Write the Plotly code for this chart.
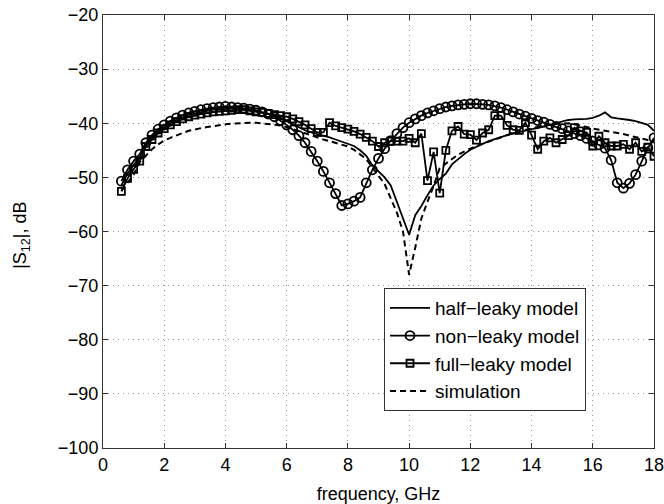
import numpy as np
import plotly.graph_objects as go

freq = [round(0.6 + 0.2 * k, 1) for k in range(88)]

non_leaky = [
    -50.7, -48.6, -47.0, -45.7, -43.6, -42.2, -41.1, -40.3, -39.6, -39.0,
    -38.5, -38.1, -37.8, -37.5, -37.3, -37.1, -37.0, -36.9, -37.0, -37.1,
    -37.2, -37.4, -37.6, -37.9, -38.3, -38.8, -39.5, -40.3, -41.2, -42.3,
    -43.6, -45.2, -47.0, -48.9, -51.0, -53.0, -55.2, -54.9, -54.4, -53.7,
    -51.0, -48.6, -46.5, -44.7, -43.2, -41.9, -40.8, -39.9, -39.2, -38.6,
    -38.1, -37.7, -37.3, -37.0, -36.8, -36.6, -36.5, -36.4, -36.4, -36.5,
    -36.6, -36.8, -37.1, -37.5, -37.9, -38.3, -38.7, -39.1, -39.5, -39.8,
    -40.2, -40.6, -41.0, -41.4, -41.9, -42.3, -42.8, -43.3, -44.0, -44.6,
    -46.8, -51.0, -52.0, -51.1, -49.5, -47.0, -44.6, -42.7,
]

full_leaky = [
    -52.6, -50.2, -48.5, -47.0, -44.3, -43.0, -41.8, -41.0, -40.3, -39.7,
    -39.2, -38.8, -38.5, -38.3, -38.1, -37.9, -37.8, -37.7, -37.6, -37.5,
    -37.5, -37.7, -37.9, -38.0, -38.2, -38.4, -38.6, -38.8, -39.2, -39.7,
    -40.3, -41.0, -41.7, -41.7, -39.9, -40.5, -40.8, -41.1, -41.5, -42.0,
    -42.6, -43.3, -44.3, -43.6, -43.3, -43.3, -43.3, -42.8, -43.6, -41.9,
    -50.6, -45.3, -52.9, -45.0, -41.4, -40.6, -42.0, -42.1, -43.1, -41.8,
    -41.2, -38.6, -38.6, -40.4, -41.2, -41.3, -39.9, -42.2, -44.8, -43.3,
    -42.7, -43.6, -43.0, -42.3, -40.8, -41.4, -41.7, -44.2, -42.4, -43.6,
    -44.2, -44.2, -43.9, -44.8, -43.6, -45.2, -44.4, -46.1,
]

half_leaky = [
    -51.5, -49.3, -47.7, -46.3, -44.0, -42.6, -41.5, -40.7, -40.0, -39.4,
    -38.9, -38.5, -38.2, -37.9, -37.7, -37.5, -37.4, -37.3, -37.3, -37.3,
    -37.4, -37.6, -37.8, -38.0, -38.3, -38.6, -39.0, -39.6, -40.2, -40.8,
    -41.3, -41.7, -42.0, -42.2, -42.6, -43.0, -43.4, -43.7, -44.2, -45.0,
    -46.0, -47.8, -49.0, -50.0, -51.5, -54.5, -57.6, -60.6, -57.0, -55.3,
    -53.3, -51.5, -50.3, -49.3, -47.6, -46.6, -45.7, -44.9, -44.3, -43.8,
    -43.3, -42.9, -42.5, -42.2, -41.9, -41.6, -41.3, -41.1, -40.9, -40.6,
    -40.3, -40.0, -39.8, -39.4, -39.3, -39.3, -39.2, -39.0, -38.6, -38.0,
    -38.9, -39.1, -39.2, -39.4, -39.6, -39.9, -40.3, -41.4,
]

simulation = [
    -52.5, -51.0, -49.5, -47.2, -45.9, -44.8, -43.9, -43.2, -42.7, -42.2,
    -41.8, -41.4, -41.1, -40.9, -40.7, -40.5, -40.3, -40.2, -40.1, -40.0,
    -39.9, -39.9, -39.9, -40.0, -40.1, -40.2, -40.4, -40.7, -41.1, -41.5,
    -41.9, -42.3, -42.7, -43.0, -43.3, -43.6, -43.9, -44.3, -44.9, -45.7,
    -46.6, -48.2, -49.6, -51.2, -53.9, -56.5, -60.0, -68.0, -63.0, -57.6,
    -54.5, -51.6, -48.3, -47.4, -46.6, -45.8, -45.2, -44.7, -44.2, -43.8,
    -43.3, -42.9, -42.5, -42.1, -41.8, -41.5, -41.2, -40.9, -40.6, -40.4,
    -40.2, -40.1, -40.0, -40.0, -40.2, -40.4, -40.7, -41.0, -41.2, -41.4,
    -41.5, -41.7, -42.0, -42.3, -42.6, -42.9, -43.1, -43.3,
]

x_ticks = list(range(0, 19, 2))
y_ticks = list(range(-100, -19, 10))

FONT = "Liberation Sans, Arial, Helvetica, sans-serif"
FS = 18

fig = go.Figure()
fig.add_trace(go.Scatter(
    x=freq, y=half_leaky, mode="lines", name="half−leaky model",
    line=dict(color="black", width=1.8),
))
fig.add_trace(go.Scatter(
    x=freq, y=non_leaky, mode="lines+markers", name="non−leaky model",
    line=dict(color="black", width=1.8),
    marker=dict(symbol="circle-open", size=9, color="black", line=dict(width=1.8)),
))
fig.add_trace(go.Scatter(
    x=freq, y=full_leaky, mode="lines+markers", name="full−leaky model",
    line=dict(color="black", width=1.8),
    marker=dict(symbol="square-open", size=7, color="black", line=dict(width=1.8)),
))
fig.add_trace(go.Scatter(
    x=freq, y=simulation, mode="lines", name="simulation",
    line=dict(color="black", width=2, dash="6px,4px"),
))

axis_common = dict(
    showline=True, linecolor="#333", linewidth=1, mirror="ticks",
    ticks="inside", ticklen=5, tickcolor="#333",
    showgrid=True, gridcolor="#999", gridwidth=1, griddash="1px,4px",
    zeroline=False, automargin=False, ticklabeloverflow="allow",
    tickfont=dict(family=FONT, size=FS, color="black"),
)

fig.update_xaxes(
    range=[0, 18], tickvals=x_ticks, ticktext=[str(v) for v in x_ticks],
    title=dict(text="frequency, GHz", font=dict(family=FONT, size=FS, color="black")),
    **axis_common,
)
fig.update_yaxes(
    range=[-100, -20], tickvals=y_ticks, ticktext=["−" + str(-v) for v in y_ticks],
    **axis_common,
)

fig.add_annotation(
    text="|S<sub>12</sub>|, dB", xref="paper", yref="paper",
    x=-0.147, y=0.49, xanchor="center", yanchor="middle",
    textangle=-90, showarrow=False,
    font=dict(family=FONT, size=FS, color="black"),
)

fig.update_layout(
    width=664, height=504,
    margin=dict(l=103, r=10, t=15, b=56, autoexpand=False),
    paper_bgcolor="white", plot_bgcolor="white",
    font=dict(family=FONT, size=FS, color="black"),
    showlegend=True,
    legend=dict(
        x=0.51, y=0.3695, xanchor="left", yanchor="top",
        bgcolor="white", bordercolor="#333", borderwidth=1,
        font=dict(family=FONT, size=19, color="black"),
        tracegroupgap=0, itemwidth=40,
    ),
)

fig.write_html(
    "out.html",
    config={"displayModeBar": False},
    post_script="document.body.style.margin='0';document.body.style.overflow='hidden';",
)
